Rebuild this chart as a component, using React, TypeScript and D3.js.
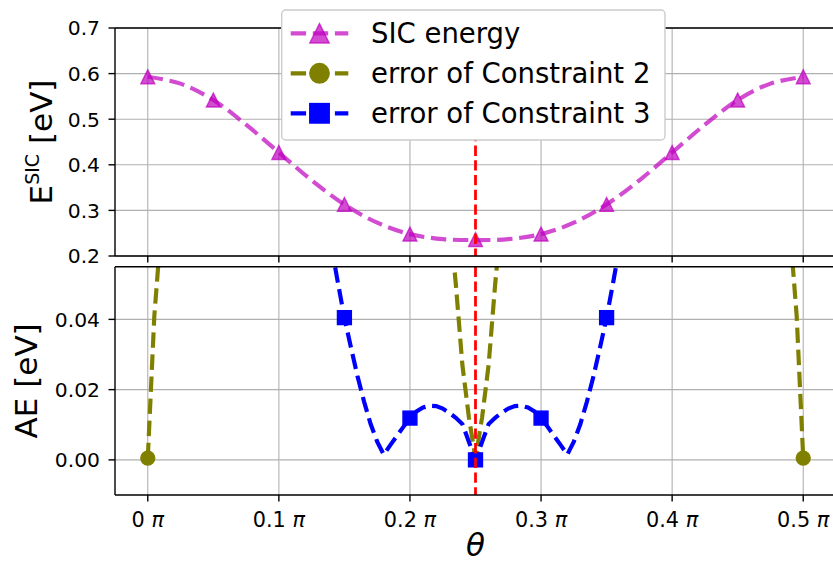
import React from 'react';
import * as d3 from 'd3';

// ---------- data ----------
const xTicks = [0, 0.1, 0.2, 0.3, 0.4, 0.5];
const xTickLabels = ['0', '0.1', '0.2', '0.3', '0.4', '0.5'];
const topYTicks = [0.2, 0.3, 0.4, 0.5, 0.6, 0.7];
const topYTickLabels = ['0.2', '0.3', '0.4', '0.5', '0.6', '0.7'];
const botYTicks = [0, 0.02, 0.04];
const botYTickLabels = ['0.00', '0.02', '0.04'];

// SIC energy curve (read at 0.025π steps)
const sicCurveTheta = [0, 0.025, 0.05, 0.075, 0.1, 0.125, 0.15, 0.175, 0.2, 0.225, 0.25,
  0.275, 0.3, 0.325, 0.35, 0.375, 0.4, 0.425, 0.45, 0.475, 0.5];
const sicCurveEnergy = [0.593, 0.578, 0.542, 0.488, 0.427, 0.366, 0.313, 0.273, 0.248, 0.237, 0.235,
  0.237, 0.248, 0.273, 0.313, 0.366, 0.427, 0.488, 0.542, 0.578, 0.593];
const sicMarkerTheta = [0, 0.05, 0.1, 0.15, 0.2, 0.25, 0.3, 0.35, 0.4, 0.45, 0.5];
const sicMarkerEnergy = [0.593, 0.542, 0.427, 0.313, 0.248, 0.236, 0.248, 0.313, 0.427, 0.542, 0.593];

// error of Constraint 2 (olive)
const c2Theta = [0, 0.005, 0.01, 0.23, 0.235, 0.24, 0.245, 0.25, 0.255, 0.26, 0.265, 0.27, 0.49, 0.495, 0.5];
const c2Error = [0.0005, 0.041, 0.065, 0.07, 0.05, 0.027, 0.012, 0.0005, 0.012, 0.027, 0.05, 0.07, 0.065, 0.041, 0.0005];
const c2MarkerTheta = [0, 0.25, 0.5];
const c2MarkerError = [0.0005, 0.0005, 0.0005];

// error of Constraint 3 (blue)
const c3Theta = [0.14, 0.145, 0.15, 0.155, 0.16, 0.165, 0.17, 0.175, 0.18, 0.185, 0.19, 0.195, 0.2,
  0.205, 0.21, 0.215, 0.22, 0.225, 0.23, 0.235, 0.24, 0.245, 0.25,
  0.255, 0.26, 0.265, 0.27, 0.275, 0.28, 0.285, 0.29, 0.295, 0.3,
  0.305, 0.31, 0.315, 0.32, 0.325, 0.33, 0.335, 0.34, 0.345, 0.35, 0.355, 0.36];
const c3Error = [0.061, 0.0505, 0.0405, 0.032, 0.0238, 0.0166, 0.0102, 0.0052, 0.0015, 0.0042, 0.0068, 0.0094, 0.0119,
  0.0138, 0.0149, 0.0154, 0.0153, 0.0146, 0.0134, 0.012, 0.0102, 0.0051, 0.0,
  0.0051, 0.0102, 0.012, 0.0134, 0.0146, 0.0153, 0.0154, 0.0149, 0.0138, 0.0119,
  0.0094, 0.0068, 0.0042, 0.0015, 0.0052, 0.0102, 0.0166, 0.0238, 0.032, 0.0405, 0.0505, 0.061];
const c3MarkerTheta = [0.15, 0.2, 0.25, 0.3, 0.35];
const c3MarkerError = [0.0405, 0.0119, 0.0, 0.0119, 0.0405];

const vlineTheta = 0.25;
const legendLabels = ['SIC energy', 'error of Constraint 2', 'error of Constraint 3'];

// ---------- layout ----------
const W = 833, H = 565;
const L = 115, R = 836;
const T1 = 28, B1 = 256;
const T2 = 266.7, B2 = 495;
const FONT = '"DejaVu Sans", sans-serif';

const MAG = '#bf00bf';
const OLIVE = '#808000';
const BLUE = '#0000ff';
const RED = '#ff0000';
const GRID = '#b0b0b0';
const LW = 4.17;
const DASH = '15.4,6.7';

const x = d3.scaleLinear().domain([-0.025, 0.525]).range([L, R]);
const yTop = d3.scaleLinear().domain([0.2, 0.7]).range([B1, T1]);
const yBot = d3.scaleLinear().domain([-0.01, 0.055]).range([B2, T2]);

const MS = 13.9;

function Triangle({ cx, cy, s, op = 0.7 }: { cx: number; cy: number; s: number; op?: number }) {
  const h = s / 2;
  return (
    <path d={`M${cx},${cy - h}L${cx - h},${cy + h}L${cx + h},${cy + h}Z`}
      fill={MAG} fillOpacity={op} stroke={MAG} strokeOpacity={op} strokeWidth={1.4} strokeLinejoin="miter" />
  );
}
function Circle({ cx, cy, s }: { cx: number; cy: number; s: number }) {
  return <circle cx={cx} cy={cy} r={s / 2} fill={OLIVE} stroke={OLIVE} strokeWidth={1.4} />;
}
function Square({ cx, cy, s }: { cx: number; cy: number; s: number }) {
  return <rect x={cx - s / 2} y={cy - s / 2} width={s} height={s} fill={BLUE} stroke={BLUE} strokeWidth={1.4} />;
}

export default function App() {
  const sicLine = d3.line<number>()
    .x((_, i) => x(sicCurveTheta[i]))
    .y((d) => yTop(d))
    .curve(d3.curveCatmullRom.alpha(0.5))(sicCurveEnergy) as string;
  const c2Line = d3.line<number>()
    .x((_, i) => x(c2Theta[i]))
    .y((d) => yBot(d))(c2Error) as string;
  const c3Line = d3.line<number>()
    .x((_, i) => x(c3Theta[i]))
    .y((d) => yBot(d))(c3Error) as string;

  const legX = 281.7, legY = 10, legW = 383.3, legH = 130;
  const rowY = [33.3, 73.3, 113.3];
  const hx0 = 290.7, hx1 = 348.3, hmx = 319.5;

  return (
    <svg width={W} height={H} style={{ position: 'absolute', left: 0, top: 0, background: '#fff' }}
      fontFamily={FONT}>
      <defs>
        <clipPath id="clipTop"><rect x={L} y={T1} width={R - L} height={B1 - T1} /></clipPath>
        <clipPath id="clipBot"><rect x={L} y={T2} width={R - L} height={B2 - T2} /></clipPath>
      </defs>
      <rect x={0} y={0} width={W} height={H} fill="#fff" />

      {/* ---- top panel ---- */}
      <g>
        {xTicks.map((t) => (
          <line key={'tgx' + t} x1={x(t)} x2={x(t)} y1={T1} y2={B1} stroke={GRID} strokeWidth={1.1} />
        ))}
        {topYTicks.map((t) => (
          <line key={'tgy' + t} x1={L} x2={R} y1={yTop(t)} y2={yTop(t)} stroke={GRID} strokeWidth={1.1} />
        ))}
        <g clipPath="url(#clipTop)">
          <path d={sicLine} fill="none" stroke={MAG} strokeOpacity={0.7} strokeWidth={LW} strokeDasharray={DASH} />
          {sicMarkerTheta.map((t, i) => (
            <Triangle key={'sm' + i} cx={x(t)} cy={yTop(sicMarkerEnergy[i])} s={MS} />
          ))}
          <line x1={x(vlineTheta)} x2={x(vlineTheta)} y1={T1} y2={B1} stroke={RED} strokeWidth={2.78} strokeDasharray="10.3,4.4" />
        </g>
        <line x1={L} x2={L} y1={T1} y2={B1} stroke="#000" strokeWidth={1.4} />
        <line x1={L} x2={R} y1={B1} y2={B1} stroke="#000" strokeWidth={1.4} />
        <line x1={L} x2={R} y1={T1} y2={T1} stroke="#000" strokeWidth={1.4} />
        {xTicks.map((t) => (
          <line key={'ttx' + t} x1={x(t)} x2={x(t)} y1={B1} y2={B1 + 6.5} stroke="#000" strokeWidth={1.4} />
        ))}
        {topYTicks.map((t, i) => (
          <g key={'tty' + t}>
            <line x1={L - 6.5} x2={L} y1={yTop(t)} y2={yTop(t)} stroke="#000" strokeWidth={1.4} />
            <text x={100} y={yTop(t)} dy="0.36em" textAnchor="end" fontSize={20.3} fill="#000">{topYTickLabels[i]}</text>
          </g>
        ))}
        <text transform={`translate(52,${(T1 + B1) / 2}) rotate(-90)`} textAnchor="middle" fontSize={31} fill="#000">
          E<tspan fontSize={19} dy={-13}>SIC</tspan><tspan dy={13}> [eV]</tspan>
        </text>
      </g>

      {/* ---- bottom panel ---- */}
      <g>
        {xTicks.map((t) => (
          <line key={'bgx' + t} x1={x(t)} x2={x(t)} y1={T2} y2={B2} stroke={GRID} strokeWidth={1.1} />
        ))}
        {botYTicks.map((t) => (
          <line key={'bgy' + t} x1={L} x2={R} y1={yBot(t)} y2={yBot(t)} stroke={GRID} strokeWidth={1.1} />
        ))}
        <g clipPath="url(#clipBot)">
          <path d={c2Line} fill="none" stroke={OLIVE} strokeWidth={LW} strokeDasharray={DASH} />
          {c2MarkerTheta.map((t, i) => (
            <Circle key={'c2m' + i} cx={x(t)} cy={yBot(c2MarkerError[i])} s={MS} />
          ))}
          <path d={c3Line} fill="none" stroke={BLUE} strokeWidth={LW} strokeDasharray={DASH} />
          {c3MarkerTheta.map((t, i) => (
            <Square key={'c3m' + i} cx={x(t)} cy={yBot(c3MarkerError[i])} s={MS} />
          ))}
          <line x1={x(vlineTheta)} x2={x(vlineTheta)} y1={T2} y2={B2} stroke={RED} strokeWidth={2.78} strokeDasharray="10.3,4.4" />
        </g>
        <line x1={L} x2={L} y1={T2} y2={B2} stroke="#000" strokeWidth={1.4} />
        <line x1={L} x2={R} y1={B2} y2={B2} stroke="#000" strokeWidth={1.4} />
        <line x1={L} x2={R} y1={T2} y2={T2} stroke="#000" strokeWidth={1.4} />
        {xTicks.map((t, i) => (
          <g key={'btx' + t}>
            <line x1={x(t)} x2={x(t)} y1={B2} y2={B2 + 6.5} stroke="#000" strokeWidth={1.4} />
            <text x={x(t)} y={527} textAnchor="middle" fontSize={20.8} fill="#000">
              {xTickLabels[i]} <tspan fontStyle="italic">π</tspan>
            </text>
          </g>
        ))}
        {botYTicks.map((t, i) => (
          <g key={'bty' + t}>
            <line x1={L - 6.5} x2={L} y1={yBot(t)} y2={yBot(t)} stroke="#000" strokeWidth={1.4} />
            <text x={100} y={yBot(t)} dy="0.36em" textAnchor="end" fontSize={20.3} fill="#000">{botYTickLabels[i]}</text>
          </g>
        ))}
        <text transform={`translate(37,${(T2 + B2) / 2}) rotate(-90)`} textAnchor="middle" fontSize={31} fill="#000">AE [eV]</text>
        <text x={x(0.25)} y={556} textAnchor="middle" fontSize={31} fontStyle="italic" fill="#000">θ</text>
      </g>

      {/* ---- legend ---- */}
      <g>
        <rect x={legX} y={legY} width={legW} height={legH} rx={4} fill="#fff" stroke="#cccccc" strokeWidth={1.4} />
        <line x1={hx0} x2={hx1} y1={rowY[0]} y2={rowY[0]} stroke={MAG} strokeOpacity={0.7} strokeWidth={LW} strokeDasharray={DASH} />
        <Triangle cx={hmx} cy={rowY[0]} s={MS * 1.4} />
        <line x1={hx0} x2={hx1} y1={rowY[1]} y2={rowY[1]} stroke={OLIVE} strokeWidth={LW} strokeDasharray={DASH} />
        <Circle cx={hmx} cy={rowY[1]} s={MS * 1.4} />
        <line x1={hx0} x2={hx1} y1={rowY[2]} y2={rowY[2]} stroke={BLUE} strokeWidth={LW} strokeDasharray={DASH} />
        <Square cx={hmx} cy={rowY[2]} s={MS * 1.4} />
        {legendLabels.map((lab, i) => (
          <text key={lab} x={371} y={rowY[i]} dy="0.36em" fontSize={27.5} fill="#000">{lab}</text>
        ))}
      </g>
    </svg>
  );
}
